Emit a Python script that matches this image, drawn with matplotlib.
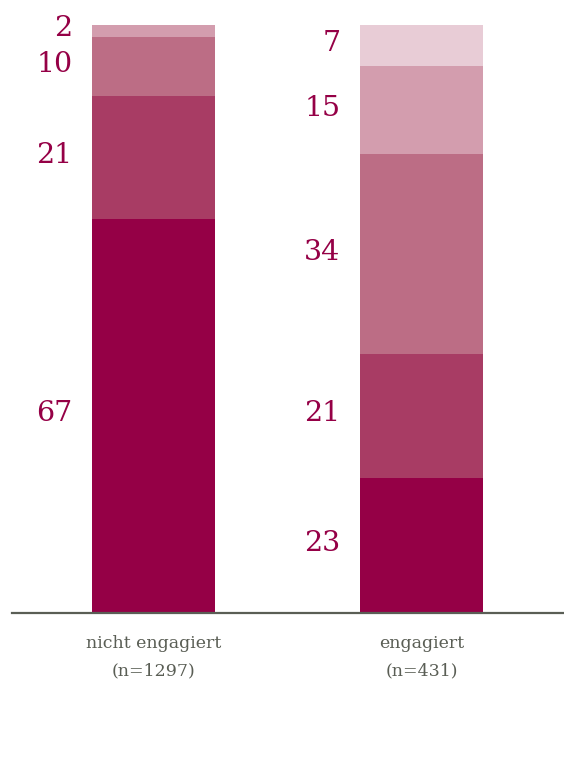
import matplotlib
matplotlib.use("Agg")
import matplotlib.pyplot as plt
import numpy as np

categories = ["nicht engagiert\n(n=1297)", "engagiert\n(n=431)"]
seg1 = [67, 23]
seg2 = [21, 21]
seg3 = [10, 34]
seg4 = [2, 15]
seg5 = [0, 7]
series = [seg1, seg2, seg3, seg4, seg5]
colors = ["#950046", "#a83c64", "#bc6d85", "#d39dae", "#e8ccd6"]
label_color = "#950046"
text_grey = "#5a5e55"

fig = plt.figure(figsize=(5.64, 7.57), dpi=100)
W, H = 564, 757
ax = fig.add_axes([12 / W, (H - 613) / H, (W - 12) / W, (613 - 25) / H])

x = np.arange(len(categories))
width = 0.459
bottom = np.zeros(len(categories))
for vals, c in zip(series, colors):
    vals = np.array(vals, dtype=float)
    ax.bar(x, vals, width, bottom=bottom, color=c, edgecolor="none")
    for i, v in enumerate(vals):
        if v > 0:
            ax.annotate(str(int(v)), xy=(x[i] - width / 2, bottom[i] + v / 2),
                        xytext=(-14, 1.5), textcoords="offset points",
                        ha="right", va="center", fontsize=20.5,
                        family="DejaVu Serif", color=label_color)
    bottom += vals

ax.set_xlim(-0.528, 1.532)
ax.set_ylim(0, 100)
for s in ["top", "right", "left"]:
    ax.spines[s].set_visible(False)
ax.spines["bottom"].set_color(text_grey)
ax.spines["bottom"].set_linewidth(1.6)
ax.set_yticks([])
ax.set_xticks(x)
ax.set_xticklabels(categories, family="DejaVu Serif", fontsize=12.5,
                   color=text_grey, linespacing=1.75)
ax.tick_params(axis="x", length=0, pad=16)

fig.savefig("out.png", dpi=100)
